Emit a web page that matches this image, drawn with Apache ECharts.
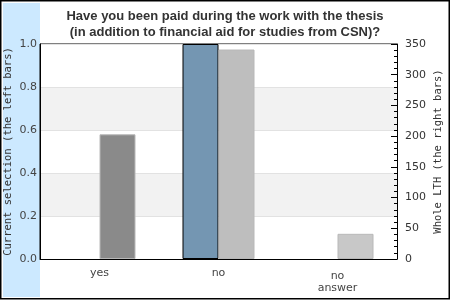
<!DOCTYPE html>
<html>
<head>
<meta charset="utf-8">
<script src="https://cdn.jsdelivr.net/npm/echarts@6/dist/echarts.min.js"></script>
<style>html,body{margin:0;padding:0;background:#fff}#c{width:450px;height:300px}</style>
</head>
<body>
<div id="c"></div>
<script>
var titleText = 'Have you been paid during the work with the thesis\n(in addition to financial aid for studies from CSN)?';
var categories = ['yes', 'no', 'no\nanswer'];
var currentSelection = [0, 1.0, 0];
var wholeLTH = [203, 341, 41];
var wholeColors = ['#8a8a8a', '#bebebe', '#c8c8c8'];
var leftName = 'Current selection (the left bars)';
var rightName = 'Whole LTH (the right bars)';

var chart = echarts.init(document.getElementById('c'), null, {renderer: 'canvas'});
chart.setOption({
  animation: false,
  backgroundColor: '#fff',
  title: {
    text: titleText,
    left: 'center',
    top: 4,
    textStyle: {fontFamily: 'Liberation Sans', fontSize: 13, fontWeight: 'bold', color: '#333', lineHeight: 15.5}
  },
  graphic: [
    {type: 'rect', z: -10, silent: true, shape: {x: 3, y: 3, width: 37, height: 294}, style: {fill: '#cce9ff'}},
    {type: 'rect', z: 100, silent: true, shape: {x: 0.75, y: 0.75, width: 448.5, height: 298}, style: {fill: 'none', stroke: '#000', lineWidth: 1.5}}
  ],
  grid: {left: 40, right: 53, top: 44, bottom: 41, containLabel: false, outerBoundsMode: 'none', show: true, backgroundColor: '#fff', borderColor: '#000', borderWidth: 1},
  xAxis: {
    type: 'category',
    data: categories.map(function (c, i) { return i === 2 ? {value: c, textStyle: {padding: [3, 0, 0, 0]}} : c; }),
    axisLine: {lineStyle: {color: '#000'}},
    axisTick: {show: false},
    axisLabel: {fontFamily: 'DejaVu Sans', fontSize: 11, color: '#444', margin: 8, lineHeight: 12}
  },
  yAxis: [
    {
      type: 'value', min: 0, max: 1, interval: 0.2, position: 'left',
      name: leftName, nameLocation: 'middle', nameRotate: 90, nameGap: 26, nameMoveOverlap: false,
      nameTextStyle: {fontFamily: 'DejaVu Sans Mono', fontSize: 10.5, color: '#333'},
      axisLine: {show: true, lineStyle: {color: '#000'}},
      axisTick: {show: false},
      axisLabel: {fontFamily: 'DejaVu Sans', fontSize: 11, color: '#444', margin: 3, formatter: function (v) { return v.toFixed(1); }},
      splitLine: {show: true, lineStyle: {color: '#e2e2e2'}},
      splitArea: {show: true, areaStyle: {color: ['#ffffff', '#f2f2f2']}}
    },
    {
      type: 'value', min: 0, max: 350, interval: 50, position: 'right',
      name: rightName, nameLocation: 'middle', nameRotate: 90, nameGap: 36, nameMoveOverlap: false,
      nameTextStyle: {fontFamily: 'DejaVu Sans Mono', fontSize: 10.5, color: '#333'},
      axisLine: {show: true, lineStyle: {color: '#000'}},
      axisTick: {show: true, inside: true, length: 6, lineStyle: {color: '#000'}},
      minorTick: {show: true, splitNumber: 5, length: 3, lineStyle: {color: '#000'}},
      axisLabel: {fontFamily: 'DejaVu Sans', fontSize: 11, color: '#333', margin: 8},
      splitLine: {show: false}
    }
  ],
  series: [
    {
      type: 'bar', yAxisIndex: 0, barWidth: 36, barGap: '0%',
      data: currentSelection.map(function (v) { return v === 0 ? {value: v, itemStyle: {borderWidth: 0}} : v; }),
      itemStyle: {color: '#7496b2', borderColor: '#000', borderWidth: 1}
    },
    {
      type: 'bar', yAxisIndex: 1, barWidth: 36, barGap: '0%',
      data: wholeLTH.map(function (v, i) { return {value: v, itemStyle: {color: wholeColors[i]}}; }),
      itemStyle: {borderColor: '#b8b8b8', borderWidth: 1}
    }
  ]
});
</script>
</body>
</html>
